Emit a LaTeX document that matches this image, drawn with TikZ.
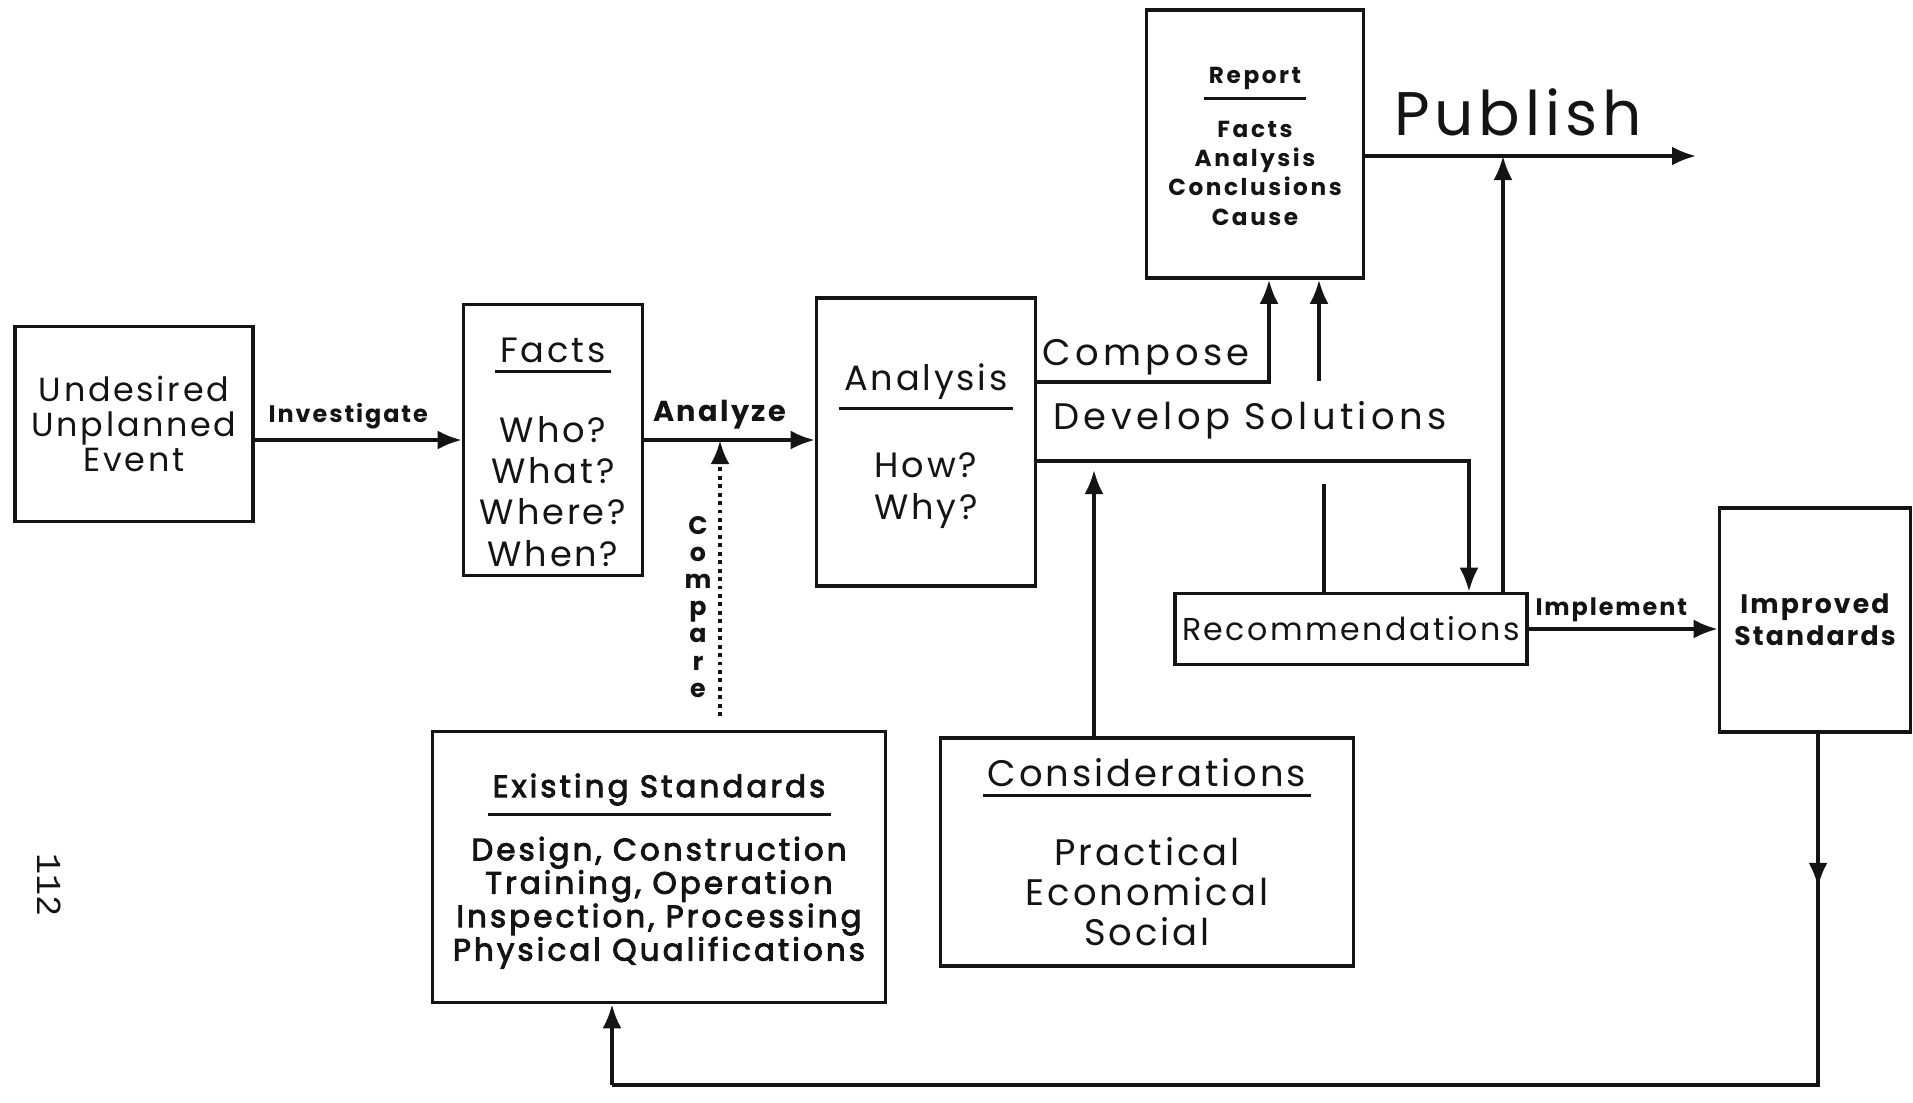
\documentclass[tikz,border=0pt]{standalone}
\usepackage{fontspec}
\setmainfont[LetterSpace=8]{Poppins}
\newfontfamily\semibf[LetterSpace=10,FakeBold=3]{Poppins}
\newfontfamily\pagefont{Liberation Mono}
\usepackage{tikz}
\usetikzlibrary{arrows.meta,positioning}
\definecolor{ink}{HTML}{141414}
% underlined box heading
\newcommand{\hd}[1]{\vtop{\hbox{\kern1.5pt#1\kern1.5pt}\kern2pt\hrule height 0.9pt}}
\newcommand{\fs}[2]{\fontsize{#1}{#2}\selectfont}
\tikzset{
  >={Latex[length=2.4mm,width=1.9mm]},
  every node/.style={text=ink},
  box/.style={draw=ink,line width=1pt,align=center,inner sep=2pt},
  flow/.style={->,draw=ink,line width=1pt},
  plain/.style={draw=ink,line width=1pt},
  cmpline/.style={->,draw=ink,line width=1.3pt,dash pattern=on 1.1pt off 1.3pt},
  tag/.style={font=\fs{6.8}{7.5}\bfseries,inner sep=1.5pt},
  lbl/.style={font=\fs{10.5}{12}\addfontfeatures{LetterSpace=12},inner sep=1.5pt},
}
\begin{document}
\begin{tikzpicture}[x=0.01cm,y=-0.01cm]
  \useasboundingbox (0,0) rectangle (1913,1102);

  % main chain
  \node[box,minimum width=2.38cm,minimum height=1.95cm,font=\fs{9.5}{10}] (event) at (134,424) {Undesired\\Unplanned\\Event};
  \node[box,minimum width=1.79cm,minimum height=2.71cm,font=\fs{10}{11.7}] (facts) at (553,440) {\rule{0pt}{14pt}\hd{Facts}\\[11pt]Who?\\What?\\Where?\\When?};
  \node[box,minimum width=2.19cm,minimum height=2.88cm,font=\fs{10}{12}] (analysis) at (926,442) {\rule{0pt}{10pt}\hd{Analysis}\\[11pt]How?\\Why?};
  \node[box,minimum width=2.17cm,minimum height=2.68cm,font=\fs{6.6}{8.3}\bfseries\addfontfeatures{LetterSpace=11}] (report) at (1255,144) {\rule{0pt}{6pt}\hd{Report}\\[5pt]Facts\\Analysis\\Conclusions\\Cause};
  \node[box,minimum width=3.52cm,minimum height=0.71cm,font=\fs{9}{10}] (recs) at (1351,629) {Recommendations};
  \node[box,minimum width=1.91cm,minimum height=2.24cm,font=\fs{7.6}{9}\bfseries] (improved) at (1815,620) {Improved\\Standards};
  \node[box,minimum width=4.53cm,minimum height=2.71cm,font=\semibf\fs{8.8}{9.5}] (existing) at (659,867) {\rule{0pt}{9pt}\hd{Existing Standards}\\[5pt]Design, Construction\\Training, Operation\\Inspection, Processing\\Physical Qualifications};
  \node[box,minimum width=4.13cm,minimum height=2.28cm,font=\fs{10.5}{11.4}] (consider) at (1147,852) {\hd{Considerations}\\[11pt]Practical\\Economical\\Social};

  % free ends of the connectors
  \coordinate (cmpfoot) at (720,716);
  \coordinate (compose) at (1269,382);
  \coordinate (devup) at (1319,381);
  \coordinate (develop) at (1469,461);
  \coordinate (conshead) at (1094,470);
  \coordinate (rectop) at (1324,484);
  \coordinate (pubjoin) at (1503,156);
  \coordinate (pubend) at (1696,156);
  \coordinate (fbright) at (1818,1085);
  \coordinate (fbleft) at (612,1085);

  \draw[flow] (event.east |- facts.west) -- (facts.west)
    node[tag,midway,above=1pt,xshift=-0.1cm] {Investigate};
  \draw[flow] (facts.east) -- (facts.east -| analysis.west)
    node[tag,midway,above=1pt,xshift=-0.1cm,font=\fs{8.2}{9}\bfseries] {Analyze};
  \draw[cmpline] (cmpfoot) -- (cmpfoot |- facts.east);
  \node[font=\fs{7.2}{7.7}\bfseries,align=center,inner sep=0pt] (cmpword) at (698,607) {C\\o\\m\\p\\a\\r\\e};

  \draw[flow] (compose -| analysis.east) -- (compose) -- (compose |- report.south);
  \node[lbl] (composetag) at (1146,357) {Compose};
  \draw[flow] (devup) -- (devup |- report.south);
  \draw[flow] (develop -| analysis.east) -- (develop) -- (develop |- recs.north);
  \node[lbl] (devtag) at (1250,420) {Develop Solutions};
  \draw[flow] (conshead |- consider.north) -- (conshead);
  \draw[plain] (rectop |- recs.north) -- (rectop);

  \draw[flow] (pubend -| report.east) -- (pubend);
  \node[font=\fs{17.5}{20},inner sep=0pt] (publish) at (1518,112) {Publish};
  \draw[flow] (pubjoin |- recs.north) -- (pubjoin);

  \draw[flow] (recs.east) -- (recs.east -| improved.west)
    node[tag,midway,above=0pt,xshift=-0.12cm] {Implement};

  % feedback loop to the standards
  \draw[plain] (improved.south -| fbright) -- (fbright) -- (fbleft);
  \draw[flow] (improved.south -| fbright) -- ++(0,153);
  \draw[flow] (fbleft) -- (fbleft |- existing.south);

  \node[rotate=-90,font=\pagefont\fs{10}{11}] (pageno) at (49,885) {112};
\end{tikzpicture}
\end{document}
